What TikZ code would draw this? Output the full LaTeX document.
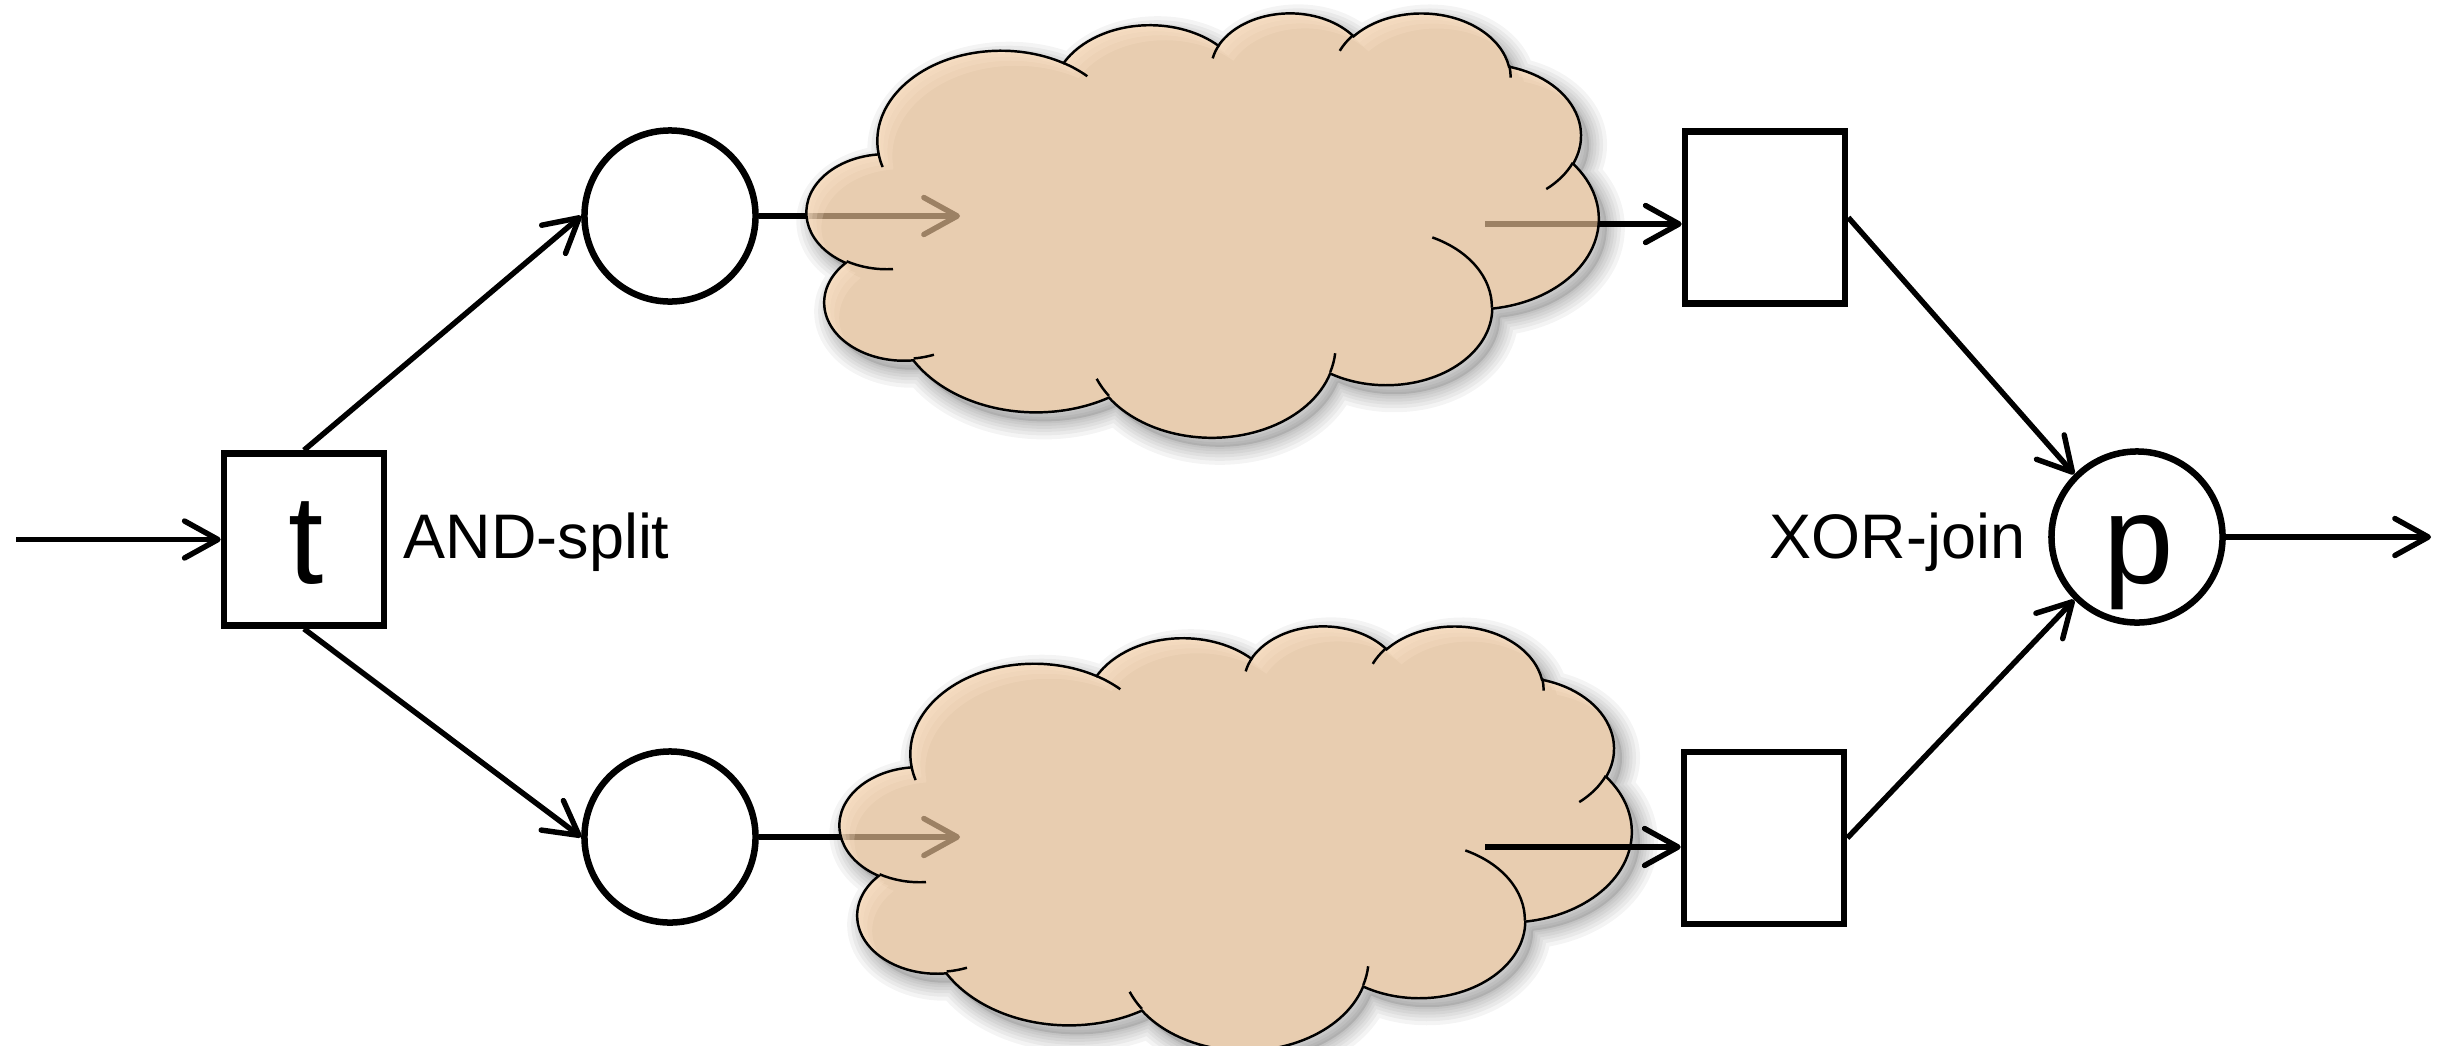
\documentclass[tikz,border=0pt]{standalone}
\usepackage{fontspec}
\setmainfont{Liberation Sans}
\usetikzlibrary{arrows.meta}

% convert visual (DrawingML) arc angles into parametric TikZ angles
\newcommand\cldprep[5]{%
  \pgfmathsetmacro\cldtmps{atan2((#2)*sin(#4),(#3)*cos(#4))}%
  \pgfmathsetmacro\cldtmpe{atan2((#2)*sin((#4)+(#5)),(#3)*cos((#4)+(#5)))}%
  \pgfmathsetmacro\cldtmpd{\cldtmpe-\cldtmps}%
  \pgfmathsetmacro\cldtmpd{(\cldtmpd<0) ? (\cldtmpd+360) : \cldtmpd}%
  \expandafter\xdef\csname cld#1s\endcsname{\cldtmps}%
  \expandafter\xdef\csname cld#1d\endcsname{\cldtmpd}%
}
\cldprep{A}{6.753}{9.19}{-190.48748}{123.78053}
\cldprep{B}{5.333}{7.267}{-144.10238}{89.94523}
\cldprep{C}{4.365}{5.945}{-145.80792}{99.72302}
\cldprep{D}{4.857}{6.595}{-130.98607}{117.24173}
\cldprep{E}{5.333}{7.273}{-78.70888}{109.02692}
\cldprep{F}{6.775}{9.22}{-46.26725}{130.269}
\cldprep{G}{5.785}{7.867}{0.62502}{114.03333}
\cldprep{H}{6.752}{9.215}{22.4516}{115.17255}
\cldprep{I}{7.72}{10.543}{66.24263}{75.71102}
\cldprep{J}{4.36}{5.918}{-274.94208}{146.73557}
\cldprep{K}{4.345}{5.945}{-246.8285}{152.51885}
\cldprep{a}{4.345}{5.945}{86.742}{26.4295}
\cldprep{b}{4.36}{5.918}{73.61047}{11.44747}
\cldprep{c}{6.752}{9.215}{137.62415}{14.0811}
\cldprep{d}{6.752}{9.215}{6.45327}{15.99835}
\cldprep{e}{5.785}{7.867}{-70.29235}{70.91737}
\cldprep{f}{5.333}{7.273}{30.31803}{27.7515}
\cldprep{g}{4.857}{6.595}{-13.74433}{14.8589}
\cldprep{h}{4.857}{6.595}{-149.18145}{18.19537}
\cldprep{i}{4.365}{5.945}{-163.49427}{17.68635}
\cldprep{j}{6.753}{9.19}{-66.70695}{12.31935}
\cldprep{k}{6.753}{9.19}{157.65435}{11.85817}

\newcommand\cloudarcs{
 arc[start angle=\cldAs, delta angle=\cldAd, x radius=6.753, y radius=9.19]
 arc[start angle=\cldBs, delta angle=\cldBd, x radius=5.333, y radius=7.267]
 arc[start angle=\cldCs, delta angle=\cldCd, x radius=4.365, y radius=5.945]
 arc[start angle=\cldDs, delta angle=\cldDd, x radius=4.857, y radius=6.595]
 arc[start angle=\cldEs, delta angle=\cldEd, x radius=5.333, y radius=7.273]
 arc[start angle=\cldFs, delta angle=\cldFd, x radius=6.775, y radius=9.22]
 arc[start angle=\cldGs, delta angle=\cldGd, x radius=5.785, y radius=7.867]
 arc[start angle=\cldHs, delta angle=\cldHd, x radius=6.752, y radius=9.215]
 arc[start angle=\cldIs, delta angle=\cldId, x radius=7.72, y radius=10.543]
 arc[start angle=\cldJs, delta angle=\cldJd, x radius=4.36, y radius=5.918]
 arc[start angle=\cldKs, delta angle=\cldKd, x radius=4.345, y radius=5.945]
 -- cycle}
\newcommand\cloudouter{(3.9,14.37) \cloudarcs}

\newcommand\cloudinner{(4.693,26.177) arc[start angle=\cldas, delta angle=\cldad, x radius=4.345, y radius=5.945]
 (6.928,34.899) arc[start angle=\cldbs, delta angle=\cldbd, x radius=4.36, y radius=5.918]
 (16.478,39.09) arc[start angle=\cldcs, delta angle=\cldcd, x radius=6.752, y radius=9.215]
 (28.827,34.751) arc[start angle=\cldds, delta angle=\clddd, x radius=6.752, y radius=9.215]
 (34.129,22.954) arc[start angle=\cldes, delta angle=\clded, x radius=5.785, y radius=7.867]
 (41.798,15.354) arc[start angle=\cldfs, delta angle=\cldfd, x radius=5.333, y radius=7.273]
 (38.324,5.426) arc[start angle=\cldgs, delta angle=\cldgd, x radius=4.857, y radius=6.595]
 (29.078,3.952) arc[start angle=\cldhs, delta angle=\cldhd, x radius=4.857, y radius=6.595]
 (22.141,4.72) arc[start angle=\cldis, delta angle=\cldid, x radius=4.365, y radius=5.945]
 (14.0,5.192) arc[start angle=\cldjs, delta angle=\cldjd, x radius=6.753, y radius=9.19]
 (4.127,15.789) arc[start angle=\cldks, delta angle=\cldkd, x radius=6.753, y radius=9.19]}

\newcommand\cldscope[3]{\begin{scope}[shift={(#1,#2)},x=1cm,y=1cm,xscale=0.1831,yscale=-0.098148]#3\end{scope}}

\newcommand\cldshadow{%
  \foreach \w in {36,28,21,15,9,4}{\path[draw=black, draw opacity=0.045, line width=\w*0.2845pt, line join=round] \cloudouter;}%
  \path[fill=black, fill opacity=0.1] \cloudouter;}

% soft light rim along the upper-left edges (inside the cloud)
\newcommand\cldbevel{%
  \begin{scope}
    \clip \cloudouter;
    \foreach \dx/\dy in {0.16/0.31, 0.33/0.61, 0.55/1.02, 0.82/1.53}{%
      \path[fill=cloudhi, fill opacity=0.22, even odd rule] (-5,-5) rectangle (50,50) (3.9+\dx,14.37+\dy) \cloudarcs;}
  \end{scope}}

\definecolor{cloudc}{RGB}{223,184,143}
\definecolor{cloudhi}{RGB}{255,232,205}

\tikzset{
  trans/.style={draw, line width=1.85pt, minimum width=1.60cm, minimum height=1.72cm, inner sep=0pt, fill=white},
  place/.style={circle, draw, line width=1.85pt, minimum size=1.71cm, inner sep=0pt, fill=white},
  flow/.style={line width=1.55pt, -{Straight Barb[length=9.5pt, width=10.5pt, line cap=round, line join=round]}},
  lbl/.style={font=\fontsize{17.9}{20}\selectfont, inner sep=0pt},
  big/.style={font=\fontsize{36}{40}\selectfont, inner sep=0pt},
  cloudbody/.style={fill=cloudc, fill opacity=0.7},
  cloudline/.style={draw=black, line width=0.7pt}
}

\begin{document}
\begin{tikzpicture}[x=0.01cm, y=-0.01cm]
\useasboundingbox (0,0) rectangle (2452,1045);

% nodes
\node[trans] (t) at (304,539.5) {};
\node[place] (c1) at (670,216) {};
\node[place] (c2) at (670,837) {};
\node[trans] (b1) at (1765,217.5) {};
\node[trans] (b2) at (1764,838) {};
\node[place] (p) at (2137,537) {};

\node[big, anchor=base] (tl) at (306,583) {t};
\node[big, anchor=base] (pl) at (2139,583) {p};
\node[lbl, anchor=base west] (andl) at (403,558) {AND-split};
\node[lbl, anchor=base west] (xorl) at (1769,558) {XOR-join};

\coordinate (in0) at (16,539.5);
\coordinate (out0) at (2431,537);
\coordinate (ci1) at (960,216);
\coordinate (co1) at (1485,224);
\coordinate (ci2) at (960,837);
\coordinate (co2) at (1485,847);

% cloud shadows and white under-layer
\cldscope{815}{21}{\cldshadow}
\cldscope{848}{634}{\cldshadow}
\cldscope{807}{12}{\path[fill=white] \cloudouter;}
\cldscope{840}{625}{\path[fill=white] \cloudouter;}

% arrows seen through the clouds
\draw[flow] (c1) -- (ci1);
\draw[flow] (co1) -- (co1 -| b1.west);
\draw[flow] (c2) -- (ci2);

% clouds
\cldscope{807}{12}{\path[cloudbody] \cloudouter; \cldbevel \path[cloudline] \cloudouter; \path[cloudline] \cloudinner;}
\cldscope{840}{625}{\path[cloudbody] \cloudouter; \cldbevel \path[cloudline] \cloudouter; \path[cloudline] \cloudinner;}

% arrow over the lower cloud
\draw[flow] (co2) -- (co2 -| b2.west);

% other connectors
\draw[flow] (in0) -- (t);
\draw[flow] (t.north) -- (c1.west);
\draw[flow] (t.south) -- (c2.west);
\draw[flow] (b1.east) -- (p.north west);
\draw[flow] (b2.east) -- (p.south west);
\draw[flow] (p) -- (out0);
\end{tikzpicture}
\end{document}
